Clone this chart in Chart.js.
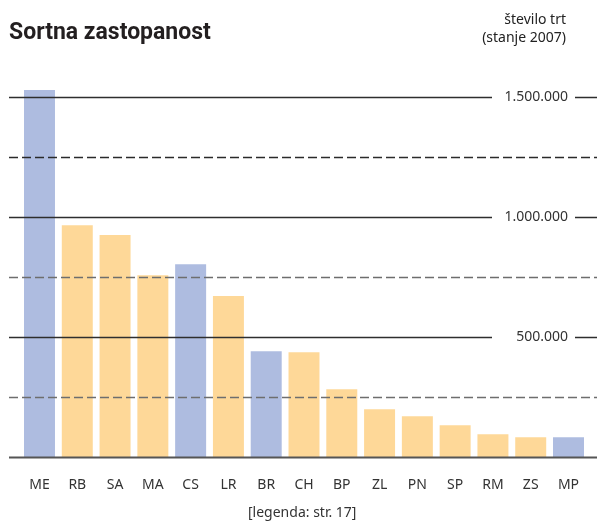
<!DOCTYPE html>
<html>
<head>
<meta charset="utf-8">
<script src="https://cdn.jsdelivr.net/npm/chart.js@4"></script>
<style>
  html, body { margin: 0; padding: 0; background: #fff; }
  #wrap { position: relative; width: 597px; height: 521px; }
  #chart { position: absolute; left: 0; top: 0; }
  .t { position: absolute; font-family: "Noto Sans", "Open Sans", sans-serif; color: #222; white-space: nowrap; }
  #title { left: 9px; top: 18px; font-family: Roboto, "Noto Sans", sans-serif; font-weight: bold; font-size: 23px; color: #231f20; }
  #unit { right: 31px; top: 10px; font-size: 14px; text-align: right; line-height: 18px; }
  #note { left: 248px; top: 502px; font-size: 14px; color: #333; }
</style>
</head>
<body>
<div id="wrap">
  <canvas id="chart" width="597" height="521"></canvas>
  <div class="t" id="title">Sortna zastopanost</div>
  <div class="t" id="unit">število trt<br>(stanje 2007)</div>
  <div class="t" id="note">[legenda: str. 17]</div>
</div>
<script>
const categories = ["ME","RB","SA","MA","CS","LR","BR","CH","BP","ZL","PN","SP","RM","ZS","MP"];
const values = [1528000, 965000, 924000, 757000, 803000, 670000, 440000, 436000, 282000, 199000, 170000, 132000, 95000, 82000, 82000];
const highlighted = ["ME","CS","BR","MP"];
const solidTicks = [500000, 1000000, 1500000];
const dashedTicks = [250000, 750000, 1250000];
const tickLabels = ["500.000", "1.000.000", "1.500.000"];

const BLUE = "#aebce0";
const YELLOW = "#fed898";

const gridPlugin = {
  id: "customGrid",
  afterDatasetsDraw(chart) {
    const ctx = chart.ctx;
    const y = chart.scales.y;
    const W = chart.width;
    const x0 = 9;
    ctx.save();
    dashedTicks.forEach((v) => {
      const py = Math.round(y.getPixelForValue(v)) + 0.5;
      ctx.beginPath();
      ctx.setLineDash([9, 4]);
      ctx.lineWidth = 1.5;
      ctx.strokeStyle = v === 1250000 ? "#2a2a2a" : "#6e6e6e";
      ctx.moveTo(x0, py);
      ctx.lineTo(W, py);
      ctx.stroke();
    });
    ctx.setLineDash([]);
    ctx.font = "14px 'Noto Sans', 'Open Sans', sans-serif";
    ctx.textAlign = "right";
    ctx.textBaseline = "middle";
    solidTicks.forEach((v, i) => {
      const py = Math.round(y.getPixelForValue(v)) + 0.5;
      ctx.beginPath();
      ctx.lineWidth = 1.5;
      ctx.strokeStyle = "#2e2e2e";
      ctx.moveTo(x0, py);
      ctx.lineTo(492, py);
      ctx.moveTo(575, py);
      ctx.lineTo(W, py);
      ctx.stroke();
      ctx.fillStyle = "#333";
      ctx.fillText(tickLabels[i], 568, py);
    });
    const pb = Math.round(y.getPixelForValue(0)) + 0.5;
    ctx.beginPath();
    ctx.lineWidth = 2;
    ctx.strokeStyle = "#555";
    ctx.moveTo(x0, pb);
    ctx.lineTo(W, pb);
    ctx.stroke();
    ctx.restore();
  }
};

new Chart(document.getElementById("chart"), {
  type: "bar",
  data: {
    labels: categories,
    datasets: [{
      data: values,
      backgroundColor: categories.map(c => highlighted.includes(c) ? BLUE : YELLOW),
      borderWidth: 0,
      categoryPercentage: 1,
      barPercentage: 0.82
    }]
  },
  options: {
    responsive: false,
    animation: false,
    events: [],
    layout: { padding: { left: 20.6, right: 9.6, top: 72.7, bottom: 15.2 } },
    plugins: { legend: { display: false }, tooltip: { enabled: false }, title: { display: false } },
    scales: {
      y: { display: false, min: 0, max: 1600000 },
      x: {
        grid: { display: false },
        border: { display: false },
        ticks: {
          padding: 12,
          color: "#333",
          font: { family: "'Noto Sans', 'Open Sans', sans-serif", size: 14 },
          maxRotation: 0, autoSkip: false
        }
      }
    }
  },
  plugins: [gridPlugin]
});
</script>
</body>
</html>
